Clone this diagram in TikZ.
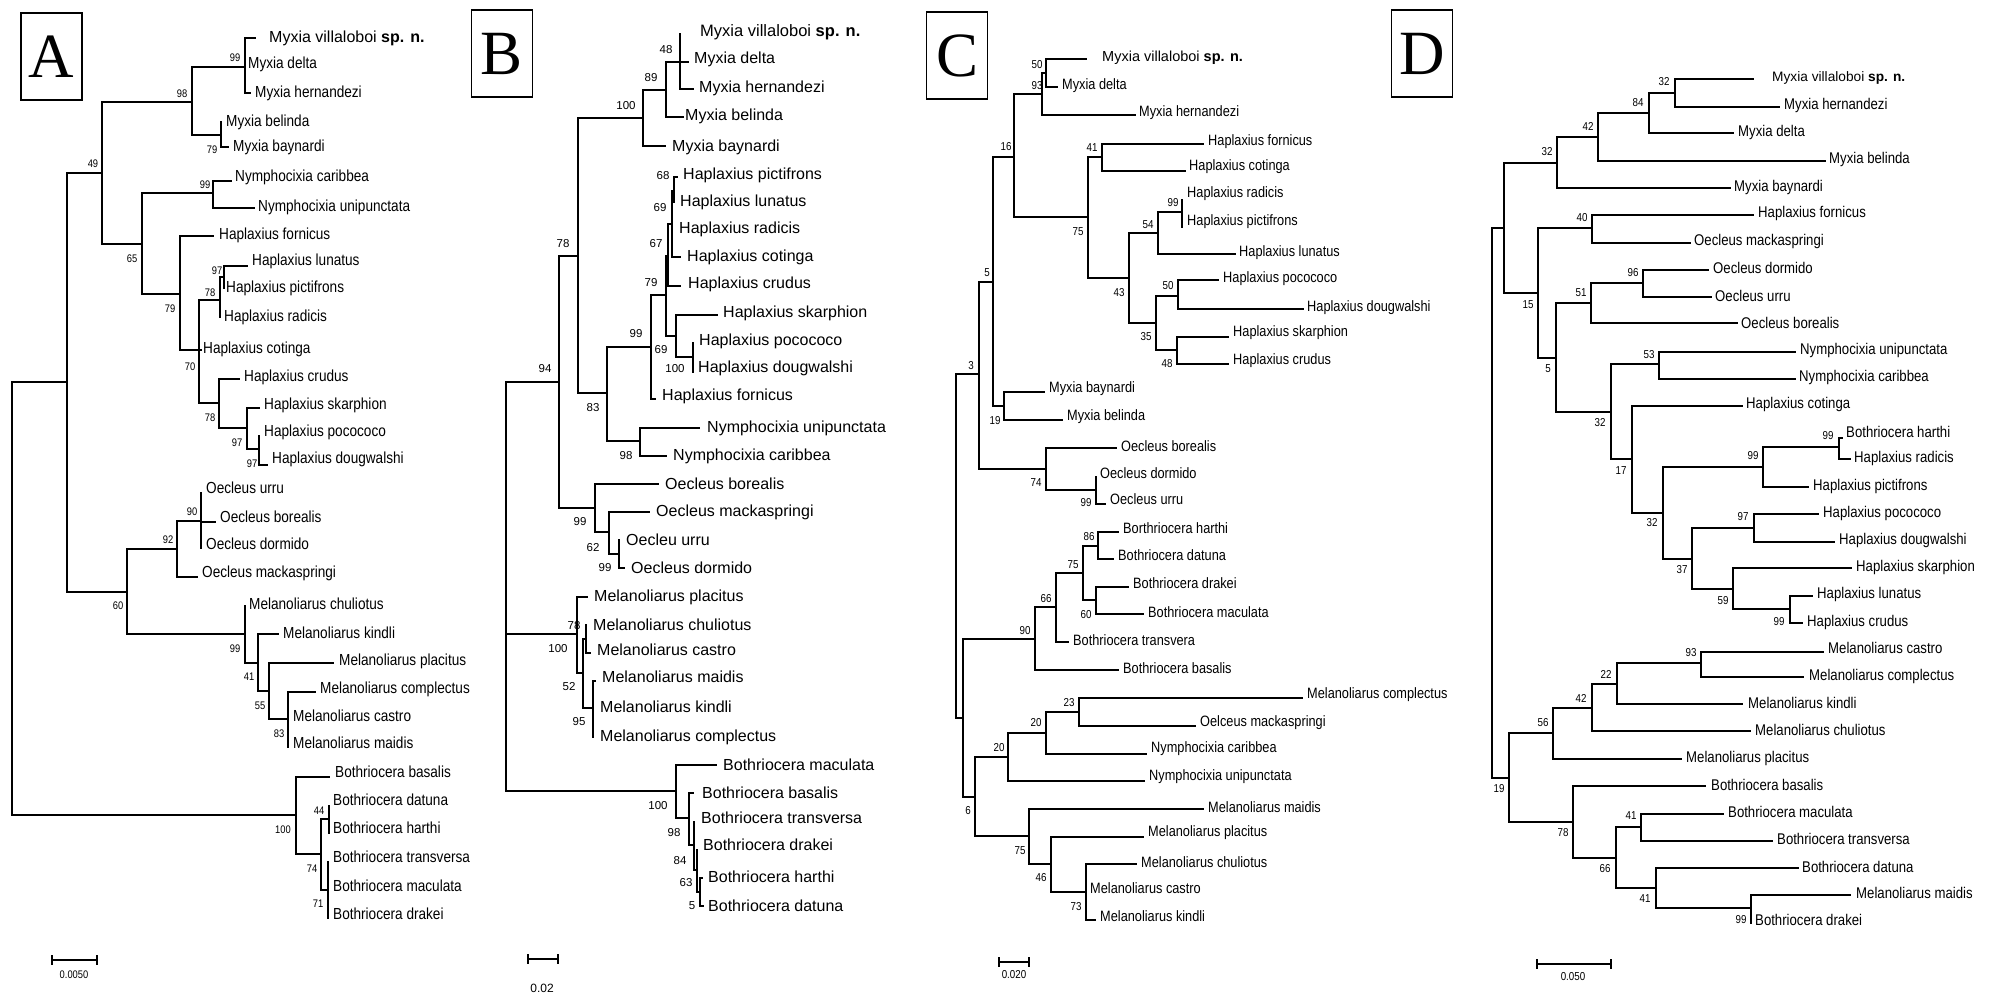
\documentclass[tikz,border=0pt]{standalone}
\usepackage{fontspec}
\setmainfont{Liberation Serif}
\newfontfamily\regf{Liberation Sans}
\newfontfamily\narf[FakeStretch=0.85]{Liberation Sans}
\newcommand\Lf[6]{\coordinate (#1) at (#2,#3); \node[tx] (#1t) at (#4,#5) {#6};}
\newcommand\Nd[6]{\coordinate (#1) at (#2,#3); \node[bs] (#1b) at (#4,#5) {#6};}
\newcommand\Br[2]{\draw[br] (#1) |- (#2);}
\newcommand\Sbar[4]{\coordinate (#1a) at (#2,#4); \coordinate (#1b) at (#3,#4);
  \draw[br] (#1a) -- (#1b);
  \draw[br] ([yshift=4pt]#1a) -- ([yshift=-4pt]#1a);
  \draw[br] ([yshift=4pt]#1b) -- ([yshift=-4pt]#1b);}
\newcommand\Vil[1]{{\regf\fontsize{#1}{#1}\selectfont Myxia villaloboi \textbf{sp. n.}}}
\begin{document}
\begin{tikzpicture}[x=1pt,y=-1pt,
  br/.style={line width=1.1pt,line cap=rect},
  txbase/.style={inner sep=0pt,anchor=west},
  bsbase/.style={inner sep=0pt},
  letterbox/.style={draw,line width=1.4pt,minimum width=61pt,minimum height=87pt,inner sep=0pt,font=\fontsize{63}{63}\selectfont}]
\path[fill=white,use as bounding box] (0,0) rectangle (2010,1004);

\node[letterbox] (boxA) at (51.5,56.5) {A};
\node[letterbox] (boxB) at (502,53.5) {B};
\node[letterbox] (boxC) at (957,55.5) {C};
\node[letterbox] (boxD) at (1422,53.5) {D};

% ================= Panel A =================
\begin{scope}[tx/.style={txbase,font=\narf\fontsize{16}{18}\selectfont},
              bs/.style={bsbase,font=\narf\fontsize{11}{12}\selectfont}]
\coordinate (aR) at (12,600);
\coordinate (a1) at (67,382);
\Nd{a49}{102}{173}{93}{164}{49}
\Nd{a98}{192}{102}{182}{94}{98}
\Nd{a99m}{245}{67}{235}{58}{99}
\Lf{aVil}{255}{38}{269}{38}{\Vil{16}}
\Lf{aDel}{245}{64}{248}{64}{Myxia delta}
\Lf{aHer}{250}{93}{255}{93}{Myxia hernandezi}
\Nd{a79m}{221}{135}{212}{150}{79}
\Lf{aBel}{221}{122}{226}{122}{Myxia belinda}
\Lf{aBay}{228}{147}{233}{147}{Myxia baynardi}
\Nd{a65}{142}{244}{132}{259}{65}
\Nd{a99n}{213}{193}{205}{185}{99}
\Lf{aNca}{231}{181}{235}{177}{Nymphocixia caribbea}
\Lf{aNun}{254}{208}{258}{207}{Nymphocixia unipunctata}
\Nd{a79h}{180}{294}{170}{309}{79}
\Lf{aFor}{213}{236}{219}{235}{Haplaxius fornicus}
\Nd{a70}{199}{350}{190}{367}{70}
\Nd{a78a}{220}{300}{210}{293}{78}
\Nd{a97}{224}{277}{217}{271}{97}
\Lf{aLun}{247}{266}{252}{261}{Haplaxius lunatus}
\Lf{aPic}{224}{288}{226}{288}{Haplaxius pictifrons}
\Lf{aRad}{220}{317}{224}{317}{Haplaxius radicis}
\Lf{aCot}{201}{350}{203}{349}{Haplaxius cotinga}
\Nd{a78b}{219}{403}{210}{418}{78}
\Lf{aCru}{239}{379}{244}{377}{Haplaxius crudus}
\Nd{a97s}{247}{428}{237}{443}{97}
\Lf{aSka}{259}{408}{264}{405}{Haplaxius skarphion}
\Nd{a97p}{259}{449}{252}{464}{97}
\Lf{aPoc}{259}{436}{264}{432}{Haplaxius pocococo}
\Lf{aDou}{267}{465}{272}{459}{Haplaxius dougwalshi}
\Nd{a60}{127}{592}{118}{606}{60}
\Nd{a92}{177}{549}{168}{540}{92}
\Nd{a90}{201}{521}{192}{512}{90}
\Lf{aUrr}{201}{493}{206}{488}{Oecleus urru}
\Lf{aBor}{215}{522}{220}{517}{Oecleus borealis}
\Lf{aDor}{201}{548}{206}{544}{Oecleus dormido}
\Lf{aMac}{197}{577}{202}{573}{Oecleus mackaspringi}
\Nd{a99l}{245}{634}{235}{649}{99}
\Lf{aChu}{245}{606}{249}{604}{Melanoliarus chuliotus}
\Nd{a41}{258}{663}{249}{677}{41}
\Lf{aKin}{278}{634}{283}{633}{Melanoliarus kindli}
\Nd{a55}{269}{691}{260}{706}{55}
\Lf{aPla}{333}{663}{339}{661}{Melanoliarus placitus}
\Nd{a83}{288}{719}{279}{734}{83}
\Lf{aCom}{315}{692}{320}{689}{Melanoliarus complectus}
\Lf{aCas}{288}{716}{293}{716}{Melanoliarus castro}
\Lf{aMai}{288}{747}{293}{743}{Melanoliarus maidis}
\Nd{aB}{296}{815}{283}{830}{100}
\Lf{aBas}{329}{777}{335}{772}{Bothriocera basalis}
\Nd{a74}{321}{854}{312}{869}{74}
\Nd{a44}{329}{819}{319}{811}{44}
\Lf{aDat}{329}{806}{333}{800}{Bothriocera datuna}
\Lf{aHar}{329}{833}{333}{828}{Bothriocera harthi}
\Nd{a71}{328}{890}{318}{904}{71}
\Lf{aTra}{328}{862}{333}{857}{Bothriocera transversa}
\Lf{aMcu}{328}{886}{333}{886}{Bothriocera maculata}
\Lf{aDra}{328}{918}{333}{914}{Bothriocera drakei}
\Br{aR}{a1} \Br{aR}{aB}
\Br{a1}{a49} \Br{a1}{a60}
\Br{a49}{a98} \Br{a49}{a65}
\Br{a98}{a99m} \Br{a98}{a79m}
\Br{a99m}{aVil} \Br{a99m}{aDel} \Br{a99m}{aHer}
\Br{a79m}{aBel} \Br{a79m}{aBay}
\Br{a65}{a99n} \Br{a65}{a79h}
\Br{a99n}{aNca} \Br{a99n}{aNun}
\Br{a79h}{aFor} \Br{a79h}{a70}
\Br{a70}{a78a} \Br{a70}{aCot} \Br{a70}{a78b}
\Br{a78a}{a97} \Br{a78a}{aRad}
\Br{a97}{aLun} \Br{a97}{aPic}
\Br{a78b}{aCru} \Br{a78b}{a97s}
\Br{a97s}{aSka} \Br{a97s}{a97p}
\Br{a97p}{aPoc} \Br{a97p}{aDou}
\Br{a60}{a92} \Br{a60}{a99l}
\Br{a92}{a90} \Br{a92}{aMac}
\Br{a90}{aUrr} \Br{a90}{aBor} \Br{a90}{aDor}
\Br{a99l}{aChu} \Br{a99l}{a41}
\Br{a41}{aKin} \Br{a41}{a55}
\Br{a55}{aPla} \Br{a55}{a83}
\Br{a83}{aCom} \Br{a83}{aCas} \Br{a83}{aMai}
\Br{aB}{aBas} \Br{aB}{a74}
\Br{a74}{a44} \Br{a74}{a71}
\Br{a44}{aDat} \Br{a44}{aHar}
\Br{a71}{aTra} \Br{a71}{aMcu} \Br{a71}{aDra}
\Sbar{sA}{52}{97}{960}
\node[bs] (sAl) at (74,975) {0.0050};
\end{scope}

% ================= Panel B =================
\begin{scope}[tx/.style={txbase,font=\regf\fontsize{16}{18}\selectfont},
              bs/.style={bsbase,font=\regf\fontsize{11.5}{12}\selectfont}]
\coordinate (bR) at (506,590);
\Nd{b94}{559}{382}{545}{369}{94}
\Nd{b78}{578}{256}{563}{244}{78}
\Nd{b100}{643}{118}{626}{106}{100}
\Nd{b89}{666}{90}{651}{78}{89}
\Nd{b48}{680}{62}{666}{50}{48}
\Lf{bVil}{680}{34}{700}{32}{\Vil{16.5}}
\Lf{bDel}{688}{62}{694}{59}{Myxia delta}
\Lf{bHer}{693}{89}{699}{88}{Myxia hernandezi}
\Lf{bBel}{683}{117}{685}{116}{Myxia belinda}
\Lf{bBay}{665}{146}{672}{147}{Myxia baynardi}
\Nd{b83}{607}{393}{593}{408}{83}
\Nd{b99h}{651}{347}{636}{334}{99}
\Nd{b79}{666}{295}{651}{283}{79}
\Nd{b67}{668}{256}{656}{244}{67}
\Nd{b69}{672}{224}{660}{208}{69}
\Nd{b68}{674}{191}{663}{176}{68}
\Lf{bPic}{677}{177}{683}{175}{Haplaxius pictifrons}
\Lf{bLun}{674}{202}{680}{202}{Haplaxius lunatus}
\Lf{bRad}{672}{229}{679}{229}{Haplaxius radicis}
\Lf{bCot}{680}{257}{687}{257}{Haplaxius cotinga}
\Lf{bCru}{680}{286}{688}{284}{Haplaxius crudus}
\Nd{b69s}{676}{336}{661}{350}{69}
\Lf{bSka}{717}{315}{723}{313}{Haplaxius skarphion}
\Nd{b100p}{693}{357}{675}{369}{100}
\Lf{bPoc}{693}{343}{699}{341}{Haplaxius pocococo}
\Lf{bDou}{693}{372}{698}{368}{Haplaxius dougwalshi}
\Lf{bFor}{655}{399}{662}{396}{Haplaxius fornicus}
\Nd{b98}{640}{441}{626}{456}{98}
\Lf{bNun}{699}{428}{707}{428}{Nymphocixia unipunctata}
\Lf{bNca}{666}{456}{673}{456}{Nymphocixia caribbea}
\Nd{b99o}{595}{508}{580}{522}{99}
\Lf{bBor}{658}{484}{665}{484}{Oecleus borealis}
\Nd{b62}{609}{532}{593}{548}{62}
\Lf{bMac}{649}{512}{656}{512}{Oecleus mackaspringi}
\Nd{b99d}{619}{554}{605}{568}{99}
\Lf{bUrr}{619}{540}{626}{540}{Oecleu urru}
\Lf{bDor}{624}{568}{631}{568}{Oecleus dormido}
\Nd{bM}{577}{634}{558}{649}{100}
\Lf{bPla}{587}{597}{594}{597}{Melanoliarus placitus}
\Nd{b52}{583}{673}{569}{687}{52}
\Nd{b78m}{586}{639}{574}{626}{78}
\Lf{bChu}{586}{625}{593}{625}{Melanoliarus chuliotus}
\Lf{bCas}{590}{653}{597}{650}{Melanoliarus castro}
\Nd{b95}{593}{708}{579}{722}{95}
\Lf{bMai}{595}{681}{602}{677}{Melanoliarus maidis}
\Lf{bKin}{593}{707}{600}{707}{Melanoliarus kindli}
\Lf{bCom}{593}{737}{600}{737}{Melanoliarus complectus}
\Nd{bB}{676}{791}{658}{806}{100}
\Lf{bMcu}{716}{765}{723}{765}{Bothriocera maculata}
\Nd{b98b}{689}{818}{674}{833}{98}
\Lf{bBas}{693}{793}{702}{793}{Bothriocera basalis}
\Nd{b84}{694}{845}{680}{861}{84}
\Lf{bTra}{694}{822}{701}{818}{Bothriocera transversa}
\Nd{b63}{697}{870}{686}{883}{63}
\Lf{bDra}{697}{850}{703}{845}{Bothriocera drakei}
\Nd{b5}{700}{892}{692}{906}{5}
\Lf{bHar}{702}{878}{708}{877}{Bothriocera harthi}
\Lf{bDat}{703}{906}{708}{906}{Bothriocera datuna}
\Br{bR}{b94} \Br{bR}{bM} \Br{bR}{bB}
\Br{b94}{b78} \Br{b94}{b99o}
\Br{b78}{b100} \Br{b78}{b83}
\Br{b100}{b89} \Br{b100}{bBay}
\Br{b89}{b48} \Br{b89}{bBel}
\Br{b48}{bVil} \Br{b48}{bDel} \Br{b48}{bHer}
\Br{b83}{b99h} \Br{b83}{b98}
\Br{b99h}{b79} \Br{b99h}{bFor}
\Br{b79}{b67} \Br{b79}{b69s}
\Br{b67}{b69} \Br{b67}{bCru}
\Br{b69}{b68} \Br{b69}{bRad} \Br{b69}{bCot}
\Br{b68}{bPic} \Br{b68}{bLun}
\Br{b69s}{bSka} \Br{b69s}{b100p}
\Br{b100p}{bPoc} \Br{b100p}{bDou}
\Br{b98}{bNun} \Br{b98}{bNca}
\Br{b99o}{bBor} \Br{b99o}{b62}
\Br{b62}{bMac} \Br{b62}{b99d}
\Br{b99d}{bUrr} \Br{b99d}{bDor}
\Br{bM}{bPla} \Br{bM}{b52}
\Br{b52}{b78m} \Br{b52}{b95}
\Br{b78m}{bChu} \Br{b78m}{bCas}
\Br{b95}{bMai} \Br{b95}{bKin} \Br{b95}{bCom}
\Br{bB}{bMcu} \Br{bB}{b98b}
\Br{b98b}{bBas} \Br{b98b}{b84}
\Br{b84}{bTra} \Br{b84}{b63}
\Br{b63}{bDra} \Br{b63}{b5}
\Br{b5}{bHar} \Br{b5}{bDat}
\Sbar{sB}{528}{558}{959}
\node[bs,font=\regf\fontsize{12}{12}\selectfont] (sBl) at (542,988) {0.02};
\end{scope}

% ================= Panel C =================
\begin{scope}[tx/.style={txbase,font=\narf\fontsize{15}{17}\selectfont},
              bs/.style={bsbase,font=\narf\fontsize{11.5}{12}\selectfont}]
\coordinate (cR) at (956,546);
\Nd{c3}{979}{374}{971}{366}{3}
\Nd{c5}{993}{282}{987}{273}{5}
\Nd{c16}{1014}{157}{1006}{147}{16}
\Nd{c93}{1042}{94}{1037}{86}{93}
\Nd{c50}{1046}{73}{1037}{65}{50}
\Lf{cVil}{1086}{59}{1102}{58}{\Vil{14.5}}
\Lf{cDel}{1057}{87}{1062}{86}{Myxia delta}
\Lf{cHer}{1135}{115}{1139}{113}{Myxia hernandezi}
\Nd{c75}{1088}{217}{1078}{232}{75}
\Nd{c41}{1102}{157}{1092}{148}{41}
\Lf{cFor}{1203}{144}{1208}{142}{Haplaxius fornicus}
\Lf{cCot}{1185}{171}{1189}{167}{Haplaxius cotinga}
\Nd{c43}{1129}{278}{1119}{293}{43}
\Nd{c54}{1158}{233}{1148}{225}{54}
\Nd{c99}{1182}{212}{1173}{203}{99}
\Lf{cRad}{1182}{200}{1187}{194}{Haplaxius radicis}
\Lf{cPic}{1182}{227}{1187}{222}{Haplaxius pictifrons}
\Lf{cLun}{1235}{254}{1239}{253}{Haplaxius lunatus}
\Nd{c35}{1156}{323}{1146}{337}{35}
\Nd{c50h}{1178}{296}{1168}{286}{50}
\Lf{cPoc}{1218}{280}{1223}{279}{Haplaxius pocococo}
\Lf{cDou}{1303}{309}{1307}{308}{Haplaxius dougwalshi}
\Nd{c48}{1177}{350}{1167}{364}{48}
\Lf{cSka}{1228}{337}{1233}{333}{Haplaxius skarphion}
\Lf{cCru}{1228}{364}{1233}{361}{Haplaxius crudus}
\Nd{c19}{1004}{406}{995}{421}{19}
\Lf{cBay}{1044}{392}{1049}{389}{Myxia baynardi}
\Lf{cBel}{1062}{420}{1067}{417}{Myxia belinda}
\Nd{c74}{1046}{469}{1036}{483}{74}
\Lf{cBor}{1116}{448}{1121}{446}{Oecleus borealis}
\Nd{c99o}{1096}{490}{1086}{503}{99}
\Lf{cDor}{1096}{477}{1100}{473}{Oecleus dormido}
\Lf{cUrr}{1105}{504}{1110}{499}{Oecleus urru}
\coordinate (c2) at (963,718);
\Nd{c90}{1035}{639}{1025}{631}{90}
\Nd{c66}{1056}{607}{1046}{599}{66}
\Nd{c75b}{1083}{573}{1073}{565}{75}
\Nd{c86}{1098}{546}{1089}{537}{86}
\Lf{cHar}{1118}{532}{1123}{528}{Borthriocera harthi}
\Lf{cDat}{1113}{559}{1118}{555}{Bothriocera datuna}
\Nd{c60}{1096}{600}{1086}{615}{60}
\Lf{cDra}{1128}{587}{1133}{583}{Bothriocera drakei}
\Lf{cMcu}{1143}{614}{1148}{612}{Bothriocera maculata}
\Lf{cTra}{1068}{642}{1073}{640}{Bothriocera transvera}
\Lf{cBas}{1118}{670}{1123}{668}{Bothriocera basalis}
\Nd{c6}{975}{797}{968}{811}{6}
\Nd{c20}{1008}{757}{999}{748}{20}
\Nd{c20b}{1046}{733}{1036}{723}{20}
\Nd{c23}{1079}{712}{1069}{703}{23}
\Lf{cCom}{1302}{698}{1307}{695}{Melanoliarus complectus}
\Lf{cMac}{1195}{726}{1200}{723}{Oelceus mackaspringi}
\Lf{cNca}{1146}{754}{1151}{749}{Nymphocixia caribbea}
\Lf{cNun}{1144}{781}{1149}{777}{Nymphocixia unipunctata}
\Nd{c75m}{1029}{836}{1020}{851}{75}
\Lf{cMai}{1203}{809}{1208}{807}{Melanoliarus maidis}
\Nd{c46}{1051}{864}{1041}{878}{46}
\Lf{cPla}{1143}{837}{1148}{833}{Melanoliarus placitus}
\Nd{c73}{1086}{892}{1076}{907}{73}
\Lf{cChu}{1136}{864}{1141}{862}{Melanoliarus chuliotus}
\Lf{cCas}{1086}{888}{1090}{888}{Melanoliarus castro}
\Lf{cKin}{1095}{920}{1100}{916}{Melanoliarus kindli}
\Br{cR}{c3} \Br{cR}{c2}
\Br{c3}{c5} \Br{c3}{c74}
\Br{c5}{c16} \Br{c5}{c19}
\Br{c16}{c93} \Br{c16}{c75}
\Br{c93}{c50} \Br{c93}{cHer}
\Br{c50}{cVil} \Br{c50}{cDel}
\Br{c75}{c41} \Br{c75}{c43}
\Br{c41}{cFor} \Br{c41}{cCot}
\Br{c43}{c54} \Br{c43}{c35}
\Br{c54}{c99} \Br{c54}{cLun}
\Br{c99}{cRad} \Br{c99}{cPic}
\Br{c35}{c50h} \Br{c35}{c48}
\Br{c50h}{cPoc} \Br{c50h}{cDou}
\Br{c48}{cSka} \Br{c48}{cCru}
\Br{c19}{cBay} \Br{c19}{cBel}
\Br{c74}{cBor} \Br{c74}{c99o}
\Br{c99o}{cDor} \Br{c99o}{cUrr}
\Br{c2}{c90} \Br{c2}{c6}
\Br{c90}{c66} \Br{c90}{cBas}
\Br{c66}{c75b} \Br{c66}{cTra}
\Br{c75b}{c86} \Br{c75b}{c60}
\Br{c86}{cHar} \Br{c86}{cDat}
\Br{c60}{cDra} \Br{c60}{cMcu}
\Br{c6}{c20} \Br{c6}{c75m}
\Br{c20}{c20b} \Br{c20}{cNun}
\Br{c20b}{c23} \Br{c20b}{cNca}
\Br{c23}{cCom} \Br{c23}{cMac}
\Br{c75m}{cMai} \Br{c75m}{c46}
\Br{c46}{cPla} \Br{c46}{c73}
\Br{c73}{cChu} \Br{c73}{cCas} \Br{c73}{cKin}
\Sbar{sC}{999}{1029}{962}
\node[bs] (sCl) at (1014,975) {0.020};
\end{scope}

% ================= Panel D =================
\begin{scope}[tx/.style={txbase,font=\narf\fontsize{15.5}{17}\selectfont},
              bs/.style={bsbase,font=\narf\fontsize{11.5}{12}\selectfont},
              br/.style={line width=1.3pt,line cap=rect}]
\coordinate (dR) at (1492,500);
\coordinate (d1) at (1504,228);
\Nd{d32a}{1557}{163}{1547}{152}{32}
\Nd{d42}{1598}{137}{1588}{126}{42}
\Nd{d84}{1649}{113}{1638}{103}{84}
\Nd{d32b}{1675}{93}{1664}{82}{32}
\Lf{dVil}{1753}{79}{1772}{78}{\Vil{13.7}}
\Lf{dHer}{1779}{107}{1784}{105}{Myxia hernandezi}
\Lf{dDel}{1733}{133}{1738}{132}{Myxia delta}
\Lf{dBel}{1825}{161}{1829}{159}{Myxia belinda}
\Lf{dBay}{1730}{188}{1734}{187}{Myxia baynardi}
\Nd{d15}{1538}{293}{1528}{305}{15}
\Nd{d40}{1592}{228}{1582}{218}{40}
\Lf{dFor}{1753}{215}{1758}{213}{Haplaxius fornicus}
\Lf{dMac}{1690}{243}{1694}{241}{Oecleus mackaspringi}
\Nd{d5}{1556}{358}{1548}{369}{5}
\Nd{d51}{1591}{303}{1581}{293}{51}
\Nd{d96}{1643}{283}{1633}{273}{96}
\Lf{dDor}{1708}{270}{1713}{268}{Oecleus dormido}
\Lf{dUrr}{1711}{297}{1715}{296}{Oecleus urru}
\Lf{dBor}{1737}{323}{1741}{323}{Oecleus borealis}
\Nd{d32c}{1611}{412}{1600}{423}{32}
\Nd{d53}{1659}{364}{1649}{355}{53}
\Lf{dNun}{1795}{352}{1800}{350}{Nymphocixia unipunctata}
\Lf{dNca}{1795}{379}{1799}{377}{Nymphocixia caribbea}
\Nd{d17}{1632}{459}{1621}{471}{17}
\Lf{dCot}{1742}{406}{1746}{404}{Haplaxius cotinga}
\Nd{d32d}{1663}{513}{1652}{523}{32}
\Nd{d99a}{1763}{467}{1753}{456}{99}
\Nd{d99b}{1839}{447}{1828}{436}{99}
\Lf{dHar}{1842}{438}{1846}{432}{Bothriocera harthi}
\Lf{dRad}{1850}{459}{1854}{458}{Haplaxius radicis}
\Lf{dPic}{1808}{487}{1813}{486}{Haplaxius pictifrons}
\Nd{d37}{1692}{559}{1682}{570}{37}
\Nd{d97}{1754}{528}{1743}{517}{97}
\Lf{dPoc}{1818}{514}{1823}{513}{Haplaxius pocococo}
\Lf{dDou}{1834}{542}{1839}{540}{Haplaxius dougwalshi}
\Nd{d59}{1733}{589}{1723}{601}{59}
\Lf{dSka}{1851}{568}{1856}{567}{Haplaxius skarphion}
\Nd{d99c}{1790}{609}{1779}{622}{99}
\Lf{dLun}{1812}{596}{1817}{594}{Haplaxius lunatus}
\Lf{dCru}{1802}{623}{1807}{622}{Haplaxius crudus}
\Nd{d19}{1509}{778}{1499}{789}{19}
\Nd{d56}{1553}{733}{1543}{723}{56}
\Nd{d42m}{1592}{708}{1581}{698}{42}
\Nd{d22}{1617}{684}{1606}{674}{22}
\Nd{d93}{1701}{663}{1691}{653}{93}
\Lf{dCas}{1823}{652}{1828}{648}{Melanoliarus castro}
\Lf{dCom}{1803}{677}{1809}{676}{Melanoliarus complectus}
\Lf{dKin}{1742}{704}{1748}{703}{Melanoliarus kindli}
\Lf{dChu}{1750}{731}{1755}{730}{Melanoliarus chuliotus}
\Lf{dPla}{1681}{759}{1686}{758}{Melanoliarus placitus}
\Nd{d78}{1573}{822}{1563}{833}{78}
\Lf{dBas}{1705}{786}{1711}{785}{Bothriocera basalis}
\Nd{d66}{1616}{858}{1605}{869}{66}
\Nd{d41a}{1641}{827}{1631}{816}{41}
\Lf{dMcu}{1723}{814}{1728}{812}{Bothriocera maculata}
\Lf{dTra}{1772}{841}{1777}{839}{Bothriocera transversa}
\Nd{d41b}{1656}{888}{1645}{899}{41}
\Lf{dDat}{1798}{868}{1802}{867}{Bothriocera datuna}
\Nd{d99d}{1751}{908}{1741}{920}{99}
\Lf{dMai}{1850}{895}{1856}{893}{Melanoliarus maidis}
\Lf{dDra}{1751}{923}{1755}{920}{Bothriocera drakei}
\Br{dR}{d1} \Br{dR}{d19}
\Br{d1}{d32a} \Br{d1}{d15}
\Br{d32a}{d42} \Br{d32a}{dBay}
\Br{d42}{d84} \Br{d42}{dBel}
\Br{d84}{d32b} \Br{d84}{dDel}
\Br{d32b}{dVil} \Br{d32b}{dHer}
\Br{d15}{d40} \Br{d15}{d5}
\Br{d40}{dFor} \Br{d40}{dMac}
\Br{d5}{d51} \Br{d5}{d32c}
\Br{d51}{d96} \Br{d51}{dBor}
\Br{d96}{dDor} \Br{d96}{dUrr}
\Br{d32c}{d53} \Br{d32c}{d17}
\Br{d53}{dNun} \Br{d53}{dNca}
\Br{d17}{dCot} \Br{d17}{d32d}
\Br{d32d}{d99a} \Br{d32d}{d37}
\Br{d99a}{d99b} \Br{d99a}{dPic}
\Br{d99b}{dHar} \Br{d99b}{dRad}
\Br{d37}{d97} \Br{d37}{d59}
\Br{d97}{dPoc} \Br{d97}{dDou}
\Br{d59}{dSka} \Br{d59}{d99c}
\Br{d99c}{dLun} \Br{d99c}{dCru}
\Br{d19}{d56} \Br{d19}{d78}
\Br{d56}{d42m} \Br{d56}{dPla}
\Br{d42m}{d22} \Br{d42m}{dChu}
\Br{d22}{d93} \Br{d22}{dKin}
\Br{d93}{dCas} \Br{d93}{dCom}
\Br{d78}{dBas} \Br{d78}{d66}
\Br{d66}{d41a} \Br{d66}{d41b}
\Br{d41a}{dMcu} \Br{d41a}{dTra}
\Br{d41b}{dDat} \Br{d41b}{d99d}
\Br{d99d}{dMai} \Br{d99d}{dDra}
\Sbar{sD}{1537}{1611}{964}
\node[bs] (sDl) at (1573,977) {0.050};
\end{scope}
\end{tikzpicture}
\end{document}
